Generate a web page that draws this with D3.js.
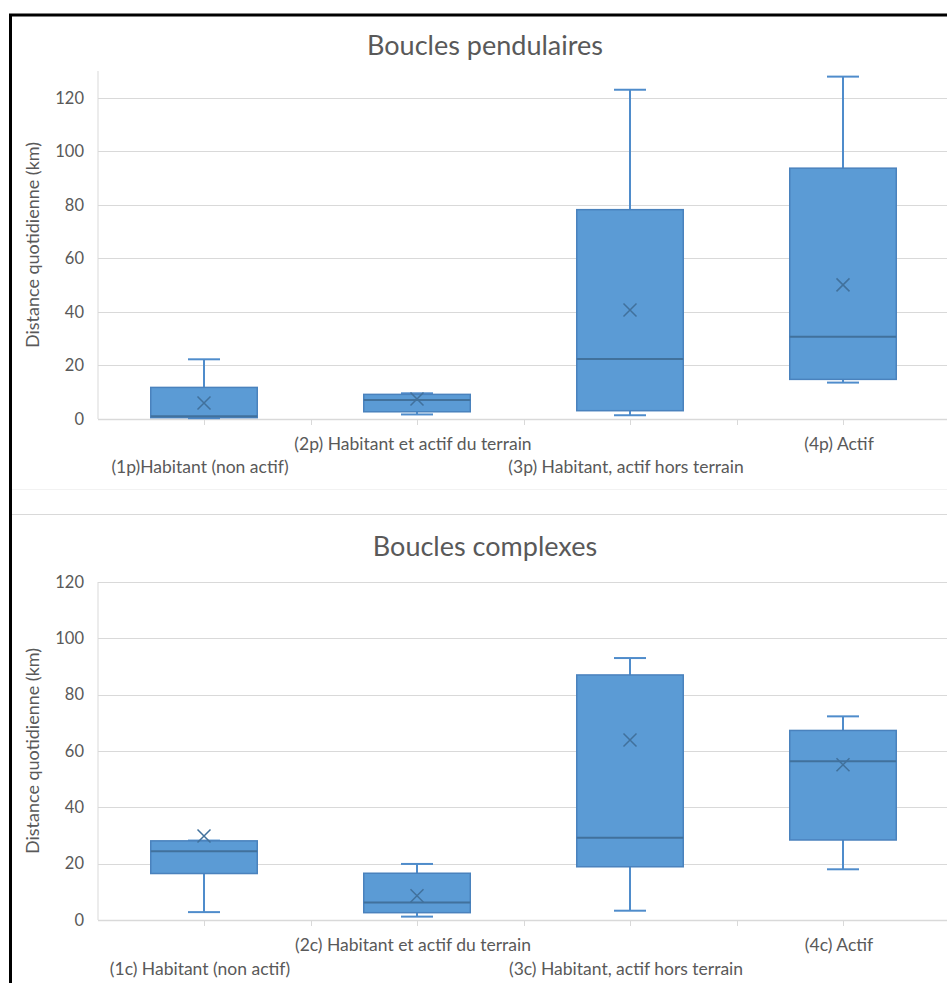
<!DOCTYPE html>
<html><head><meta charset="utf-8">
<script src="https://cdn.jsdelivr.net/npm/d3@7"></script>
<style>body{margin:0;background:#fff}svg{display:block}text{font-family:Lato,"Open Sans",sans-serif;fill:#595959}</style>
</head><body>
<svg id="c" width="947" height="983"></svg>
<script>
const categoriesTop = ["(1p)Habitant (non actif)", "(2p) Habitant et actif du terrain", "(3p) Habitant, actif hors terrain", "(4p) Actif"];
const minTop    = [0.3, 1.7, 1.4, 13.6];
const q1Top     = [0.5, 2.7, 3.1, 14.8];
const medianTop = [1.0, 7.1, 22.4, 30.7];
const q3Top     = [11.8, 9.2, 78.2, 93.7];
const maxTop    = [22.3, 9.6, 123.0, 127.9];
const meanTop   = [6.0, 7.5, 40.7, 50.1];

const categoriesBottom = ["(1c) Habitant (non actif)", "(2c)  Habitant et actif du terrain", "(3c)  Habitant, actif hors terrain", "(4c)  Actif"];
const minBottom    = [2.8, 1.2, 3.3, 18.0];
const q1Bottom     = [16.5, 2.6, 18.9, 28.4];
const medianBottom = [24.4, 6.2, 29.2, 56.4];
const q3Bottom     = [28.1, 16.6, 87.0, 67.3];
const maxBottom    = [28.2, 19.9, 93.0, 72.3];
const meanBottom   = [29.8, 8.6, 63.9, 55.1];

const yTicks = [0, 20, 40, 60, 80, 100, 120];
const titles = ["Boucles pendulaires", "Boucles complexes"];
const yLabel = "Distance quotidienne (km)";

const svg = d3.select("#c");
const GRID = "#d9d9d9", FILL = "#5b9bd5", DARK = "#41719c", WH = "#4f8ccb";

function drawChart(cfg) {
  const { cats, mn, q1, md, q3, mx, mean, yMax, yTop, yBottom, title, titleY, row1, row2 } = cfg;
  const x = d3.scaleBand().domain(cats).range([97.5, 949.5]).padding(0);
  const y = d3.scaleLinear().domain([0, yMax]).range([yBottom, yTop]);
  const bw = x.bandwidth();
  const g = svg.append("g");

  g.append("text").attr("x", 485).attr("y", titleY).attr("text-anchor", "middle")
    .style("font-size", "27px").text(title);

  g.selectAll(".grid").data(yTicks).join("line")
    .attr("x1", 98).attr("x2", 947)
    .attr("y1", d => Math.round(y(d)) + 0.5).attr("y2", d => Math.round(y(d)) + 0.5)
    .attr("stroke", GRID).attr("stroke-width", d => d === 0 ? 1.5 : 1);
  g.append("line").attr("x1", 98).attr("x2", 98).attr("y1", yTop).attr("y2", y(0))
    .attr("stroke", GRID);
  const tickPos = [];
  cats.forEach((c, i) => { if (i > 0) tickPos.push(x(c)); tickPos.push(x(c) + bw / 2); });
  g.selectAll(".xt").data(tickPos).join("line")
    .attr("x1", d => Math.round(d) + 0.5).attr("x2", d => Math.round(d) + 0.5)
    .attr("y1", y(0)).attr("y2", y(0) + 6).attr("stroke", GRID);

  g.selectAll(".yl").data(yTicks).join("text")
    .attr("x", 84).attr("y", d => y(d)).attr("dy", "0.35em").attr("text-anchor", "end")
    .style("font-size", "16.5px").text(d => d);

  g.append("text").attr("transform", `translate(39,${(yTop + yBottom) / 2}) rotate(-90)`)
    .attr("text-anchor", "middle").style("font-size", "18px").text(yLabel);

  cats.forEach((c, i) => {
    const cx = x(c) + bw / 2;
    const bx = x(c) + bw / 4, bwid = bw / 2;
    const cap = 32;
    g.append("line").attr("x1", cx).attr("x2", cx).attr("y1", y(q3[i])).attr("y2", y(mx[i]))
      .attr("stroke", WH).attr("stroke-width", 2);
    g.append("line").attr("x1", cx).attr("x2", cx).attr("y1", y(q1[i])).attr("y2", y(mn[i]))
      .attr("stroke", WH).attr("stroke-width", 2);
    g.append("line").attr("x1", cx - cap / 2).attr("x2", cx + cap / 2).attr("y1", y(mx[i])).attr("y2", y(mx[i]))
      .attr("stroke", WH).attr("stroke-width", 2);
    g.append("line").attr("x1", cx - cap / 2).attr("x2", cx + cap / 2).attr("y1", y(mn[i])).attr("y2", y(mn[i]))
      .attr("stroke", WH).attr("stroke-width", 2);
    g.append("rect").attr("x", bx).attr("y", y(q3[i])).attr("width", bwid)
      .attr("height", y(q1[i]) - y(q3[i])).attr("fill", FILL).attr("stroke", "#4a82bd").attr("stroke-width", 1.5);
    g.append("line").attr("x1", bx).attr("x2", bx + bwid).attr("y1", y(md[i])).attr("y2", y(md[i]))
      .attr("stroke", DARK).attr("stroke-width", 2);
    const my = y(mean[i]), s = 6.5;
    g.append("path").attr("d", `M${cx - s},${my - s}L${cx + s},${my + s}M${cx - s},${my + s}L${cx + s},${my - s}`)
      .attr("stroke", DARK).attr("stroke-width", 1.5).attr("fill", "none");
    g.append("text").attr("x", cx - 4).attr("y", i % 2 === 1 ? row1 : row2)
      .attr("text-anchor", "middle").style("font-size", "17.5px").text(c);
  });
}

drawChart({ cats: categoriesTop, mn: minTop, q1: q1Top, md: medianTop, q3: q3Top, mx: maxTop, mean: meanTop,
  yMax: 130, yTop: 71, yBottom: 419, title: titles[0], titleY: 55, row1: 450, row2: 473 });
drawChart({ cats: categoriesBottom, mn: minBottom, q1: q1Bottom, md: medianBottom, q3: q3Bottom, mx: maxBottom, mean: meanBottom,
  yMax: 120, yTop: 582, yBottom: 920, title: titles[1], titleY: 556, row1: 951, row2: 975 });

svg.append("line").attr("x1", 12).attr("x2", 947).attr("y1", 489.5).attr("y2", 489.5).attr("stroke", "#f2f2f2");
svg.append("line").attr("x1", 12).attr("x2", 947).attr("y1", 514.5).attr("y2", 514.5).attr("stroke", "#d9d9d9");
svg.append("rect").attr("x", 10.5).attr("y", 15).attr("width", 1000).attr("height", 1100)
  .attr("fill", "none").attr("stroke", "#000").attr("stroke-width", 3);
</script>
</body></html>
